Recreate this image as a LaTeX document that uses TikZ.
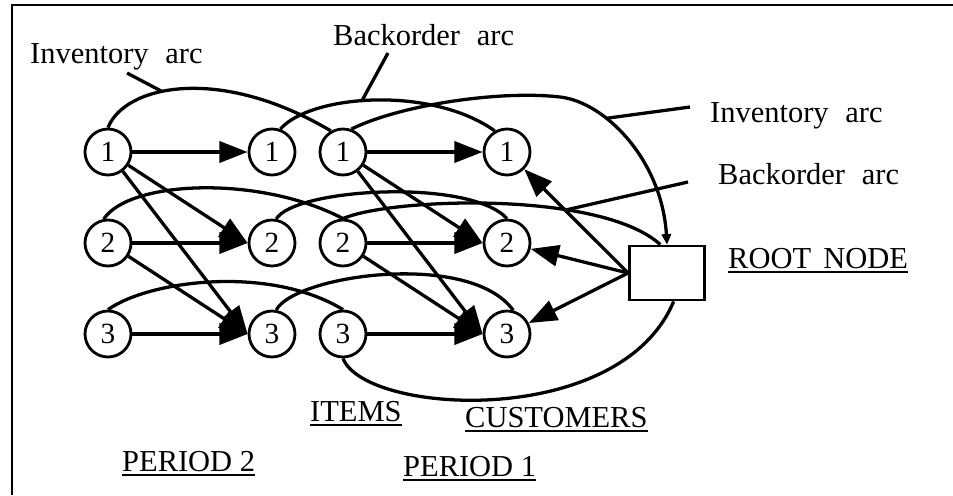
\documentclass[tikz,border=0pt]{standalone}
\usepackage{fontspec}
\setmainfont{Liberation Serif}
\usepackage{tikz}
\usetikzlibrary{arrows.meta}

\newsavebox{\ulbox}
\newcommand{\ulbl}[1]{\sbox{\ulbox}{#1}\rlap{\rule[-0.17em]{\wd\ulbox}{0.08em}}\usebox{\ulbox}}

\begin{document}
\begin{tikzpicture}[x=0.03cm, y=-0.03cm,
    vertex/.style={draw, circle, fill=white, line width=2.4pt, minimum size=1.38cm, inner sep=0pt, font=\fontsize{25}{25}\selectfont},
    flow/.style={line width=2.8pt, -{Triangle[length=24pt,width=18pt]}},
    arcline/.style={line width=2.8pt},
    lbl/.style={font=\fontsize{26}{30}\selectfont, inner sep=0pt, anchor=base west}]

  \useasboundingbox (0,0) rectangle (953,495);
  \draw[line width=1.8pt] (12,495) -- (12,5) -- (953,5);

	\foreach \row/\y in {1/152, 2/243, 3/334}{
		\node[vertex] (item2-\row) at (108,\y) {\row};
		\node[vertex] (cust2-\row) at (272,\y) {\row};
		\node[vertex] (item1-\row) at (343,\y) {\row};
		\node[vertex] (cust1-\row) at (507,\y) {\row};
	};

\node[draw, line width=2.4pt, minimum width=2.25cm, minimum height=1.62cm] (root) at (667,273) {};

	\foreach \i/\j in {1/1, 1/2, 1/3, 2/2, 2/3, 3/3}{
		\draw[flow] (item2-\i) -- (cust2-\j.west);
		\draw[flow] (item1-\i) -- (cust1-\j.west);
	};
	\foreach \j in {1, 2, 3}{
		\draw[flow] (root.west) -- (cust1-\j);
	};

\draw[arcline] (item2-1.north) .. controls (125,85) and (220,65) .. coordinate[pos=0.4] (invL) (item1-1.120);
\draw[arcline] (item2-2.100) .. controls (130,180) and (260,175) .. (item1-2.north);
\draw[arcline] (item2-3.north) .. controls (150,280) and (270,265) .. (item1-3.north);

\draw[arcline] (cust2-1.70) .. controls (310,95) and (430,85) .. coordinate[pos=0.45] (bkT) (cust1-1.120);
\draw[arcline] (cust2-2.80) .. controls (295,188) and (470,178) .. (cust1-2.north);
\draw[arcline] (cust2-3.80) .. controls (295,275) and (470,250) .. (cust1-3.75);

\draw[arcline, -{Triangle[length=9pt,width=8pt]}] (item1-1.70) .. controls (400,105) and (500,90) .. (560,97) .. controls (605,102) and (662,160) .. coordinate[pos=0.33] (invR) (root.north);
\draw[arcline] (item1-2.north) .. controls (390,198) and (600,190) .. coordinate[pos=0.68] (bkR) ([xshift=-0.2cm]root.north);
\draw[arcline] (item1-3.south) .. controls (365,415) and (620,430) .. ([xshift=0.2cm]root.south);

\node[lbl] (invlabL) at (30,63) {Inventory\hspace{0.55em}arc};
\node[lbl] (bklabT) at (333,45) {Backorder\hspace{0.55em}arc};
\node[lbl] (invlabR) at (710,122) {Inventory\hspace{0.55em}arc};
\node[lbl] (bklabR) at (718,184) {Backorder\hspace{0.55em}arc};
\node[lbl] (rootlab) at (728,268) {\ulbl{ROOT\hspace{0.4em}NODE}};
\node[lbl] (itemslab) at (310,421) {\ulbl{ITEMS}};
\node[lbl] (custlab) at (465,427) {\ulbl{CUSTOMERS}};
\node[lbl] (per2lab) at (122,471) {\ulbl{PERIOD 2}};
\node[lbl] (per1lab) at (403,476) {\ulbl{PERIOD 1}};

\coordinate (invtailL) at (127,73);
\coordinate (bktailT) at (388,53);
\coordinate (invtailR) at (690,107);
\coordinate (bktailR) at (688,182);
\draw[arcline] (invtailL) -- (invL);
\draw[arcline] (bktailT) -- (bkT);
\draw[arcline] (invtailR) -- (invR);
\draw[arcline] (bktailR) -- (bkR);

\end{tikzpicture}
\end{document}
